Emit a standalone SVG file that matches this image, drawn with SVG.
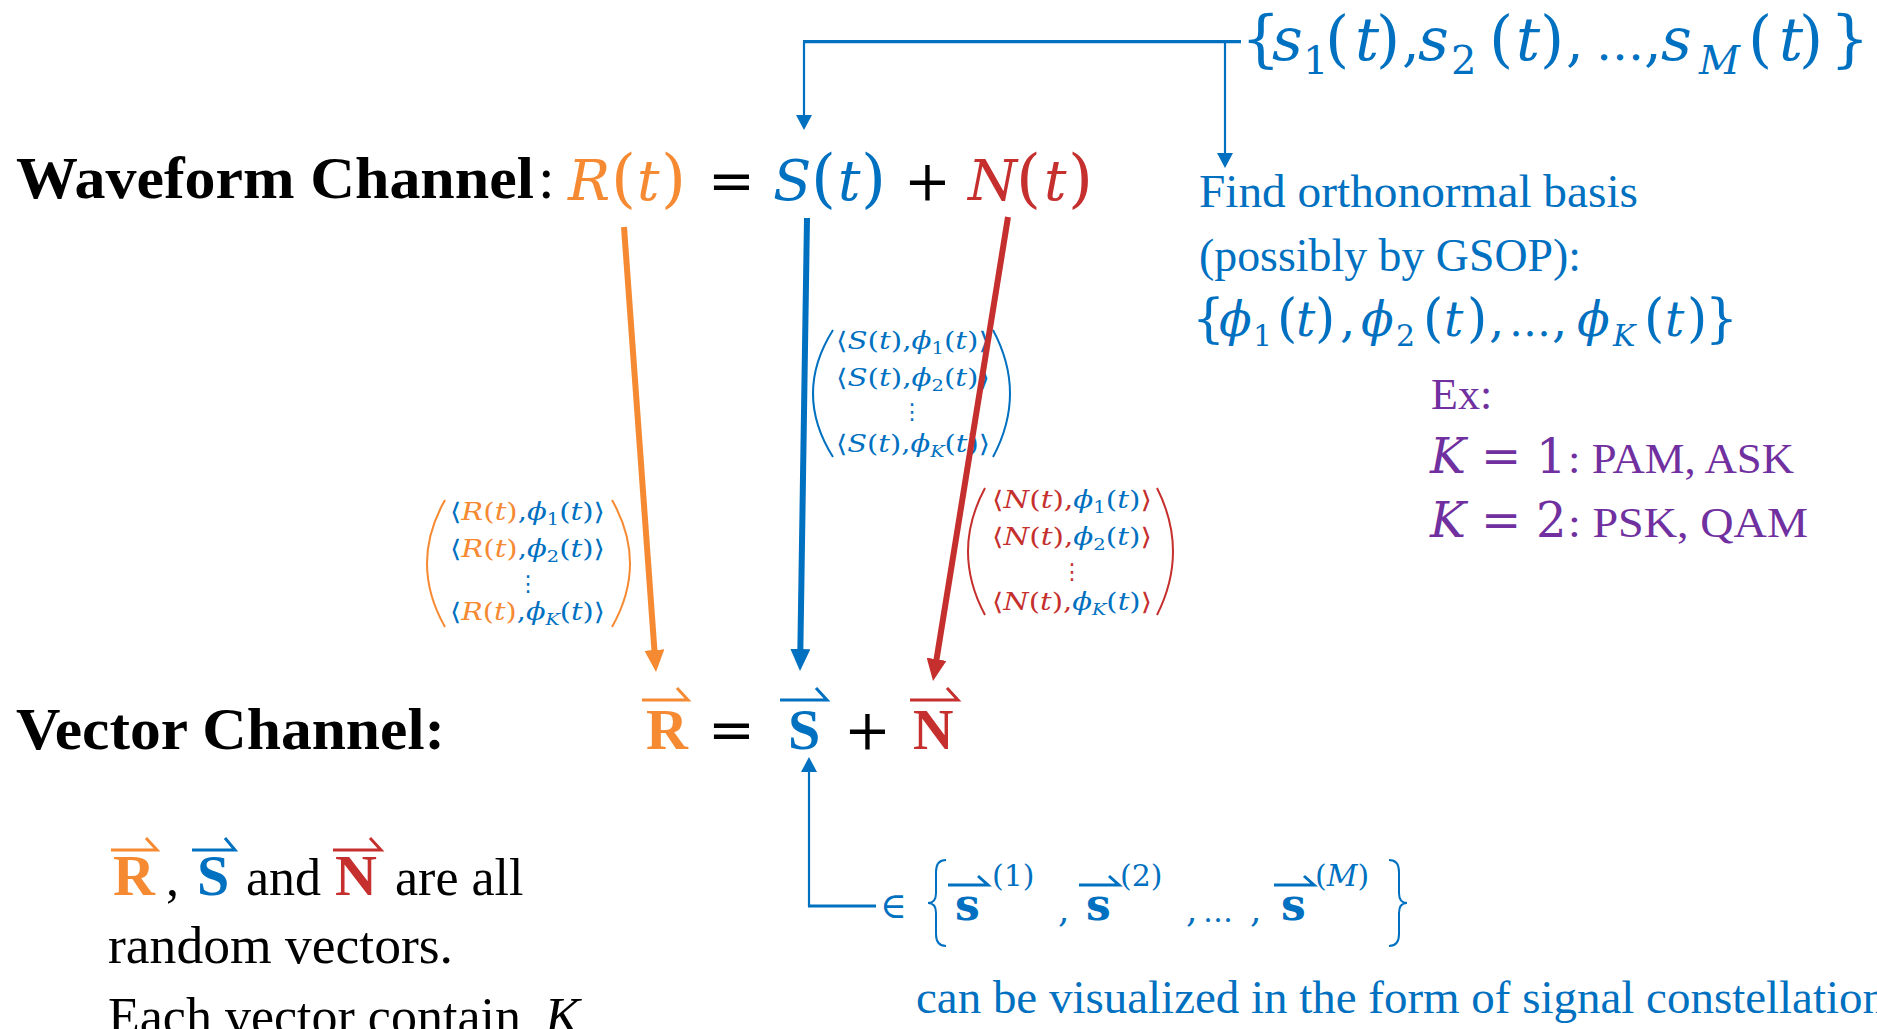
<svg xmlns="http://www.w3.org/2000/svg" width="1877" height="1029" viewBox="0 0 1877 1029">
<style>
text{font-family:"Liberation Serif","DejaVu Serif","DejaVu Sans",serif}
.m{font-family:"DejaVu Serif","DejaVu Sans",serif}
.i{font-style:italic}
.b{font-weight:bold}
.cb{fill:#0070C0}.co{fill:#F68A33}.cr{fill:#C52F2D}.cp{fill:#7030A0}.ck{fill:#000}
.mx{font-family:"DejaVu Serif","DejaVu Sans",serif;font-size:24px}
.sb{font-size:16px}
.dots{font-family:"DejaVu Sans",sans-serif;font-size:22px;text-anchor:middle}
.vec{fill:none;stroke-width:3;stroke-linejoin:miter}
.delim{fill:none;stroke-width:2}
.thin{fill:none;stroke:#0070C0;stroke-width:2.2}
.thick{fill:none;stroke-width:6}
</style>
<defs>
<marker id="ab" markerUnits="userSpaceOnUse" markerWidth="15" markerHeight="16" refX="2" refY="8" orient="auto"><path d="M0,0 L15,8 L0,16 z" fill="#0070C0"/></marker>
<marker id="aB" markerUnits="userSpaceOnUse" markerWidth="22" markerHeight="20" refX="4" refY="10" orient="auto"><path d="M0,0 L22,10 L0,20 z" fill="#0070C0"/></marker>
<marker id="aO" markerUnits="userSpaceOnUse" markerWidth="22" markerHeight="20" refX="4" refY="10" orient="auto"><path d="M0,0 L22,10 L0,20 z" fill="#F68A33"/></marker>
<marker id="aR" markerUnits="userSpaceOnUse" markerWidth="22" markerHeight="20" refX="4" refY="10" orient="auto"><path d="M0,0 L22,10 L0,20 z" fill="#C52F2D"/></marker>
</defs>
<rect width="1877" height="1029" fill="#fff"/>

<g id="signal-set">
<text class="m cb" y="60" font-size="60"><tspan x="1241" font-size="62">{</tspan><tspan class="i" x="1272">s</tspan><tspan x="1303" y="74" font-size="40">1</tspan><tspan x="1325" y="60" font-size="62">(</tspan><tspan class="i" x="1355">t</tspan><tspan x="1376" font-size="62">)</tspan><tspan x="1402" font-size="56">,</tspan><tspan class="i" x="1418">s</tspan><tspan x="1451" y="74" font-size="40">2</tspan><tspan x="1489" y="60" font-size="62">(</tspan><tspan class="i" x="1516">t</tspan><tspan x="1540" font-size="62">)</tspan><tspan x="1566" font-size="56">,</tspan><tspan x="1596" font-size="48">…</tspan><tspan x="1644" font-size="56">,</tspan><tspan class="i" x="1661">s</tspan><tspan class="i" x="1699" y="74" font-size="40">M</tspan><tspan x="1748" y="60" font-size="62">(</tspan><tspan class="i" x="1779">t</tspan><tspan x="1799" font-size="62">)</tspan><tspan x="1830" font-size="62">}</tspan></text>
</g>

<g id="waveform-channel">
<text class="b ck" x="16" y="198" font-size="60" textLength="518" lengthAdjust="spacingAndGlyphs">Waveform Channel</text>
<text class="ck" x="538" y="198" font-size="60">:</text>
<text class="m" y="200" font-size="56"><tspan class="co i" x="568">R</tspan><tspan class="co" x="611" font-size="64">(</tspan><tspan class="co i" x="637">t</tspan><tspan class="co" x="661" font-size="64">)</tspan><tspan class="ck" x="708">=</tspan><tspan class="cb i" x="773">S</tspan><tspan class="cb" x="811" font-size="64">(</tspan><tspan class="cb i" x="838">t</tspan><tspan class="cb" x="861" font-size="64">)</tspan><tspan class="ck" x="904">+</tspan><tspan class="cr i" x="968">N</tspan><tspan class="cr" x="1016" font-size="64">(</tspan><tspan class="cr i" x="1044">t</tspan><tspan class="cr" x="1068" font-size="64">)</tspan></text>
</g>

<g id="basis">
<text class="cb" x="1199" y="207" font-size="46" textLength="439" lengthAdjust="spacingAndGlyphs">Find orthonormal basis</text>
<text class="cb" x="1199" y="271" font-size="46" textLength="382" lengthAdjust="spacingAndGlyphs">(possibly by GSOP):</text>
<text class="m cb" y="336" font-size="48"><tspan x="1192" font-size="52">{</tspan><tspan class="i" x="1219">ϕ</tspan><tspan x="1253" y="346" font-size="30">1</tspan><tspan x="1277" y="336" font-size="52">(</tspan><tspan class="i" x="1296">t</tspan><tspan x="1315" font-size="52">)</tspan><tspan x="1340">,</tspan><tspan class="i" x="1361">ϕ</tspan><tspan x="1396" y="346" font-size="30">2</tspan><tspan x="1423" y="336" font-size="52">(</tspan><tspan class="i" x="1444">t</tspan><tspan x="1467" font-size="52">)</tspan><tspan x="1489">,</tspan><tspan x="1509" font-size="42">…</tspan><tspan x="1552">,</tspan><tspan class="i" x="1577">ϕ</tspan><tspan class="i" x="1613" y="346" font-size="30">K</tspan><tspan x="1644" y="336" font-size="52">(</tspan><tspan class="i" x="1665">t</tspan><tspan x="1687" font-size="52">)</tspan><tspan x="1705" font-size="52">}</tspan></text>
</g>

<g id="examples">
<text class="cp" x="1431" y="409" font-size="44">Ex:</text>
<text class="m cp" y="473" font-size="48"><tspan class="i" x="1430">K</tspan><tspan x="1481">=</tspan><tspan x="1536">1</tspan></text>
<text class="cp" x="1568" y="473" font-size="42" textLength="226" lengthAdjust="spacingAndGlyphs">: PAM, ASK</text>
<text class="m cp" y="537" font-size="48"><tspan class="i" x="1430">K</tspan><tspan x="1481">=</tspan><tspan x="1536">2</tspan></text>
<text class="cp" x="1568" y="537" font-size="42" textLength="240" lengthAdjust="spacingAndGlyphs">: PSK, QAM</text>
</g>

<g id="matrix-R">
<path class="delim" stroke="#F68A33" d="M445,500 Q409,563.5 445,627"/>
<path class="delim" stroke="#F68A33" d="M612,500 Q648,563.5 612,627"/>
<text class="mx cb" x="450" y="520" textLength="155" lengthAdjust="spacingAndGlyphs">⟨<tspan class="co"><tspan class="i">R</tspan>(<tspan class="i">t</tspan>)</tspan>,<tspan class="i">ϕ</tspan><tspan class="sb" dy="5">1</tspan><tspan dy="-5">(</tspan><tspan class="i">t</tspan>)⟩</text>
<text class="mx cb" x="450" y="557" textLength="155" lengthAdjust="spacingAndGlyphs">⟨<tspan class="co"><tspan class="i">R</tspan>(<tspan class="i">t</tspan>)</tspan>,<tspan class="i">ϕ</tspan><tspan class="sb" dy="5">2</tspan><tspan dy="-5">(</tspan><tspan class="i">t</tspan>)⟩</text>
<text class="dots cb" x="528" y="591">⋮</text>
<text class="mx cb" x="450" y="620" textLength="155" lengthAdjust="spacingAndGlyphs">⟨<tspan class="co"><tspan class="i">R</tspan>(<tspan class="i">t</tspan>)</tspan>,<tspan class="i">ϕ</tspan><tspan class="sb i" dy="5">K</tspan><tspan dy="-5">(</tspan><tspan class="i">t</tspan>)⟩</text>
</g>

<g id="matrix-S">
<path class="delim" stroke="#0070C0" d="M833,330 Q793,393.5 833,457"/>
<path class="delim" stroke="#0070C0" d="M993,330 Q1027,393.5 993,457"/>
<text class="mx cb" x="836" y="349" textLength="154" lengthAdjust="spacingAndGlyphs">⟨<tspan class="i">S</tspan>(<tspan class="i">t</tspan>),<tspan class="i">ϕ</tspan><tspan class="sb" dy="5">1</tspan><tspan dy="-5">(</tspan><tspan class="i">t</tspan>)⟩</text>
<text class="mx cb" x="836" y="386" textLength="154" lengthAdjust="spacingAndGlyphs">⟨<tspan class="i">S</tspan>(<tspan class="i">t</tspan>),<tspan class="i">ϕ</tspan><tspan class="sb" dy="5">2</tspan><tspan dy="-5">(</tspan><tspan class="i">t</tspan>)⟩</text>
<text class="dots cb" x="912" y="419">⋮</text>
<text class="mx cb" x="836" y="452" textLength="154" lengthAdjust="spacingAndGlyphs">⟨<tspan class="i">S</tspan>(<tspan class="i">t</tspan>),<tspan class="i">ϕ</tspan><tspan class="sb i" dy="5">K</tspan><tspan dy="-5">(</tspan><tspan class="i">t</tspan>)⟩</text>
</g>

<g id="matrix-N">
<path class="delim" stroke="#C52F2D" d="M985,488 Q951,551.5 985,615"/>
<path class="delim" stroke="#C52F2D" d="M1157,488 Q1189,551.5 1157,615"/>
<text class="mx cr" x="992" y="508" textLength="160" lengthAdjust="spacingAndGlyphs">⟨<tspan class="i">N</tspan>(<tspan class="i">t</tspan>),<tspan class="cb"><tspan class="i">ϕ</tspan><tspan class="sb" dy="5">1</tspan><tspan dy="-5">(</tspan><tspan class="i">t</tspan>)</tspan>⟩</text>
<text class="mx cr" x="992" y="545" textLength="160" lengthAdjust="spacingAndGlyphs">⟨<tspan class="i">N</tspan>(<tspan class="i">t</tspan>),<tspan class="cb"><tspan class="i">ϕ</tspan><tspan class="sb" dy="5">2</tspan><tspan dy="-5">(</tspan><tspan class="i">t</tspan>)</tspan>⟩</text>
<text class="dots cr" x="1072" y="579">⋮</text>
<text class="mx cr" x="992" y="610" textLength="160" lengthAdjust="spacingAndGlyphs">⟨<tspan class="i">N</tspan>(<tspan class="i">t</tspan>),<tspan class="cb"><tspan class="i">ϕ</tspan><tspan class="sb i" dy="5">K</tspan><tspan dy="-5">(</tspan><tspan class="i">t</tspan>)</tspan>⟩</text>
</g>

<g id="vector-channel">
<text class="b ck" x="16" y="749" font-size="60" textLength="429" lengthAdjust="spacingAndGlyphs">Vector Channel:</text>
<text y="749" font-size="58"><tspan class="b co" x="646">R</tspan><tspan class="m ck" x="708" font-size="56">=</tspan><tspan class="b cb" x="788" font-size="58">S</tspan><tspan class="m ck" x="844" font-size="56">+</tspan><tspan class="b cr" x="913" font-size="56">N</tspan></text>
<path class="vec" stroke="#F68A33" d="M642,700 H688 L677,688"/>
<path class="vec" stroke="#0070C0" d="M780,700 H827 L816,688"/>
<path class="vec" stroke="#C52F2D" d="M910,700 H958 L947,688"/>
</g>

<g id="vector-set">
<text class="m cb" y="918" font-size="36"><tspan x="880">∈</tspan></text>
<text class="m cb" y="920"><tspan class="b" x="955" font-size="44">s</tspan><tspan x="992" y="886" font-size="30">(1)</tspan><tspan x="1058" y="922" font-size="36">,</tspan><tspan class="b" x="1086" y="920" font-size="44">s</tspan><tspan x="1120" y="886" font-size="30">(2)</tspan><tspan x="1186" y="922" font-size="36">,</tspan><tspan x="1203" font-size="30">…</tspan><tspan x="1250" font-size="36">,</tspan><tspan class="b" x="1281" y="920" font-size="44">s</tspan><tspan x="1315" y="886" font-size="30">(<tspan class="i">M</tspan>)</tspan></text>
<path class="vec" stroke="#0070C0" stroke-width="2.6" d="M948,885 H988 L978,876"/>
<path class="vec" stroke="#0070C0" stroke-width="2.6" d="M1079,885 H1119 L1109,876"/>
<path class="vec" stroke="#0070C0" stroke-width="2.6" d="M1274,885 H1314 L1304,876"/>
<path class="delim" stroke="#0070C0" d="M946,860 Q936,860 936,872 V893 Q936,903 928,903 Q936,903 936,913 V934 Q936,946 946,946"/>
<path class="delim" stroke="#0070C0" d="M1389,860 Q1399,860 1399,872 V893 Q1399,903 1407,903 Q1399,903 1399,913 V934 Q1399,946 1389,946"/>
</g>

<g id="note-random">
<text y="895" font-size="52"><tspan class="b co" x="113" font-size="58">R</tspan><tspan class="ck" x="166">,</tspan><tspan class="b cb" x="197" font-size="58">S</tspan><tspan class="ck" x="246">and</tspan><tspan class="b cr" x="335" font-size="58">N</tspan><tspan class="ck" x="395">are all</tspan></text>
<path class="vec" stroke="#F68A33" d="M111,850 H157 L146,838"/>
<path class="vec" stroke="#0070C0" d="M192,850 H235 L225,838"/>
<path class="vec" stroke="#C52F2D" d="M333,850 H381 L370,838"/>
<text class="ck" x="108" y="963" font-size="52" textLength="345" lengthAdjust="spacingAndGlyphs">random vectors.</text>
<text class="ck" y="1034" font-size="52"><tspan x="108">Each vector contain </tspan><tspan class="i" x="545">K</tspan></text>
</g>

<g id="constellation-note">
<text class="cb" x="916" y="1013" font-size="46" textLength="970" lengthAdjust="spacingAndGlyphs">can be visualized in the form of signal constellation</text>
</g>

<g id="connectors">
<path fill="none" stroke="#0070C0" stroke-width="3.3" d="M1241,41.7 H803"/>
<path class="thin" d="M804,41.7 V117" marker-end="url(#ab)"/>
<path class="thin" d="M1225,41.7 V155" marker-end="url(#ab)"/>
<path fill="none" stroke="#0070C0" stroke-width="3" d="M876,906 H808"/>
<path class="thin" d="M809,907 V770" marker-end="url(#ab)"/>
<path class="thick" stroke="#F68A33" d="M624,227 L654.7,654" marker-end="url(#aO)"/>
<path class="thick" stroke="#0070C0" d="M807,218 L800.3,653" marker-end="url(#aB)"/>
<path class="thick" stroke="#C52F2D" d="M1008,217 L935.9,663.2" marker-end="url(#aR)"/>
</g>
</svg>
